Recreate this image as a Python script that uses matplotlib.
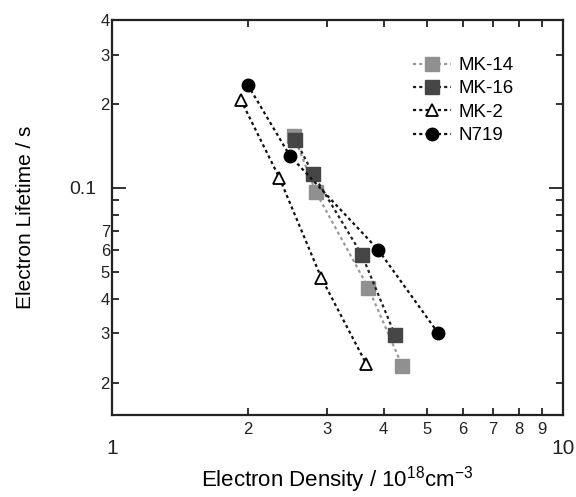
import numpy as np
import matplotlib
matplotlib.use("Agg")
import matplotlib.pyplot as plt
from matplotlib.ticker import FixedLocator, FixedFormatter

plt.rcParams['font.family'] = ['Liberation Sans', 'DejaVu Sans']
plt.rcParams['mathtext.fontset'] = 'custom'
plt.rcParams['mathtext.rm'] = 'Liberation Sans'
plt.rcParams['mathtext.it'] = 'Liberation Sans'

# electron density (10^18 cm^-3) vs electron lifetime (s)
mk14_x = [2.53, 2.83, 3.70, 4.40]
mk14_y = [0.1536, 0.0967, 0.0438, 0.0230]
mk16_x = [2.55, 2.79, 3.58, 4.24]
mk16_y = [0.1486, 0.1122, 0.0575, 0.0297]
mk2_x = [1.93, 2.35, 2.91, 3.66]
mk2_y = [0.2067, 0.1086, 0.0476, 0.0234]
n719_x = [2.00, 2.48, 3.89, 5.28]
n719_y = [0.2340, 0.1302, 0.0600, 0.0302]

xminor = [2, 3, 4, 5, 6, 7, 8, 9]
xminor_labels = ["2", "3", "4", "5", "6", "7", "8", "9"]
yminor = [0.02, 0.03, 0.04, 0.05, 0.06, 0.07, 0.08, 0.09, 0.2, 0.3, 0.4]
yminor_labels = ["2", "3", "4", "5", "6", "7", "", "", "2", "3", "4"]

fig = plt.figure(figsize=(5.76, 4.97), dpi=100)
ax = fig.add_axes([0.1944, 0.165, 0.783, 0.795])

dash = (0, (1.4, 1.4))
ax.plot(mk14_x, mk14_y, linestyle=dash, color="#9a9a9a", lw=1.6,
        marker="s", ms=9.5, mfc="#909090", mec="#909090", label="MK-14")
ax.plot(mk16_x, mk16_y, linestyle=dash, color="#222222", lw=1.6,
        marker="s", ms=9.5, mfc="#454545", mec="#454545", label="MK-16")
ax.plot(mk2_x, mk2_y, linestyle=dash, color="#111111", lw=1.6,
        marker="^", ms=8, mfc="white", mec="black", mew=1.3, label="MK-2")
ax.plot(n719_x, n719_y, linestyle=dash, color="#111111", lw=1.6,
        marker="o", ms=9, mfc="black", mec="black", label="N719")

ax.set_xscale("log")
ax.set_yscale("log")
ax.set_xlim(1, 10)
ax.set_ylim(0.0153, 0.4)

ax.xaxis.set_major_locator(FixedLocator([1, 10]))
ax.xaxis.set_major_formatter(FixedFormatter(["1", "10"]))
ax.xaxis.set_minor_locator(FixedLocator(xminor))
ax.xaxis.set_minor_formatter(FixedFormatter(xminor_labels))
ax.yaxis.set_major_locator(FixedLocator([0.1]))
ax.yaxis.set_major_formatter(FixedFormatter(["0.1"]))
ax.yaxis.set_minor_locator(FixedLocator(yminor))
ax.yaxis.set_minor_formatter(FixedFormatter(yminor_labels))

ax.tick_params(which="both", direction="in", top=True, right=True, width=1.3, colors="#222222")
ax.tick_params(which="major", length=10)
ax.tick_params(which="minor", length=5)
ax.tick_params(axis="x", which="major", labelsize=15, pad=17)
ax.tick_params(axis="x", which="minor", labelsize=12, pad=5)
ax.tick_params(axis="y", which="major", labelsize=14, pad=11)
ax.tick_params(axis="y", which="minor", labelsize=12, pad=1.5)
for s in ax.spines.values():
    s.set_linewidth(1.6)
    s.set_color("#222222")

ax.set_xlabel(r"Electron Density / 10$^{18}$cm$^{-3}$", fontsize=16, labelpad=5)
ax.set_ylabel("Electron Lifetime / s", fontsize=15, labelpad=25)

ax.legend(loc="upper left", bbox_to_anchor=(413 / 576, 1 - 57 / 497),
          bbox_transform=fig.transFigure, frameon=False, fontsize=13.5,
          handlelength=2.0, handletextpad=0.45, labelspacing=0.33, borderpad=0,
          borderaxespad=0)

fig.savefig("out.png", dpi=100)
